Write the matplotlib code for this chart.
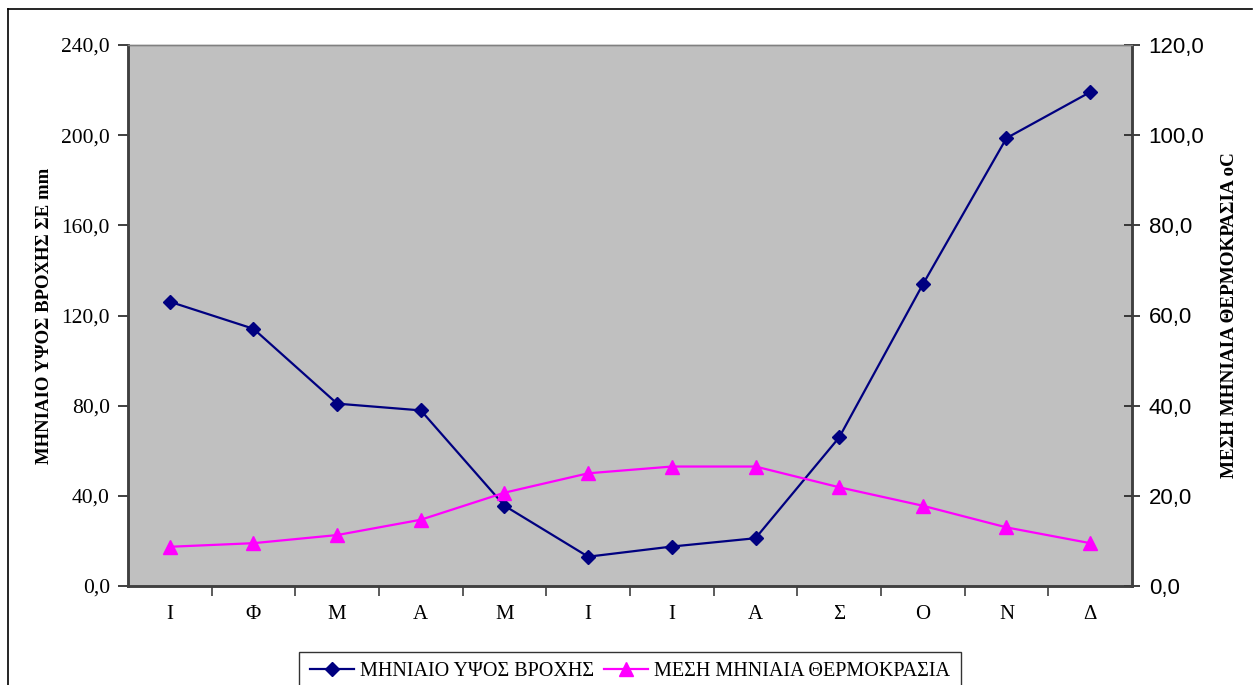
import matplotlib
matplotlib.use('Agg')
import matplotlib.pyplot as plt
from matplotlib.lines import Line2D
from matplotlib.ticker import FuncFormatter, FixedLocator

# Monthly rainfall (mm) and mean monthly temperature (oC)
months = ['Ι', 'Φ', 'Μ', 'Α', 'Μ', 'Ι', 'Ι', 'Α', 'Σ', 'Ο', 'Ν', 'Δ']
rain = [126.1, 114.1, 80.9, 77.9, 35.6, 13.0, 17.5, 21.2, 65.9, 133.8, 198.7, 219.1]
temp = [8.7, 9.5, 11.3, 14.7, 20.7, 25.0, 26.5, 26.5, 21.9, 17.8, 13.0, 9.5]

rain_label = 'ΜΗΝΙΑΙΟ ΥΨΟΣ ΒΡΟΧΗΣ'
temp_label = 'ΜΕΣΗ ΜΗΝΙΑΙΑ ΘΕΡΜΟΚΡΑΣΙΑ'

serif = ['Liberation Serif', 'DejaVu Serif']
sans = ['Liberation Sans', 'DejaVu Sans']


def comma(v, pos):
    return ('%.1f' % v).replace('.', ',')


fig = plt.figure(figsize=(12.57, 6.85), dpi=100)
ax = fig.add_axes([128 / 1257, 99 / 685, 1004 / 1257, 541 / 685])
ax.set_facecolor('#C0C0C0')
ax2 = ax.twinx()

x = list(range(len(months)))
l1, = ax.plot(x, rain, color='#000080', lw=1.6, marker='D', ms=7,
              label=rain_label, zorder=3)
l2, = ax2.plot(x, temp, color='#FF00FF', lw=1.6, marker='^', ms=10,
               label=temp_label, zorder=3)

ax.set_xlim(-0.5, len(months) - 0.5)
ax.set_ylim(0, 240)
ax2.set_ylim(0, 120)
ax.set_yticks([0, 40, 80, 120, 160, 200, 240])
ax2.set_yticks([0, 20, 40, 60, 80, 100, 120])
ax.yaxis.set_major_formatter(FuncFormatter(comma))
ax2.yaxis.set_major_formatter(FuncFormatter(comma))

# category labels centred, tick marks on the boundaries
ax.set_xticks(x)
ax.set_xticklabels(months, fontfamily=serif, fontsize=15)
ax.tick_params(axis='x', which='major', length=0, pad=14)
ax.xaxis.set_minor_locator(FixedLocator([i + 0.5 for i in x[:-1]]))
ax.tick_params(axis='x', which='minor', length=7, width=1.2, color='#404040')

ax.tick_params(axis='y', length=7, width=1.2, color='#202020', pad=6)
for t in ax.get_yticklabels():
    t.set_fontfamily(serif)
    t.set_fontsize(15.5)
ax2.tick_params(axis='y', direction='inout', length=12, width=1.2,
                color='#202020', pad=6)
for t in ax2.get_yticklabels():
    t.set_fontfamily(sans)
    t.set_fontsize(16)

for a in (ax, ax2):
    for side in ('left', 'bottom', 'right'):
        a.spines[side].set_color('#404040')
        a.spines[side].set_linewidth(1.8)
    a.spines['top'].set_color('#808080')
    a.spines['top'].set_linewidth(1.0)

ax.set_ylabel('ΜΗΝΙΑΙΟ ΥΨΟΣ ΒΡΟΧΗΣ ΣΕ mm', fontfamily=serif,
              fontweight='bold', fontsize=13.5, labelpad=6)
ax2.set_ylabel('ΜΕΣΗ ΜΗΝΙΑΙΑ ΘΕΡΜΟΚΡΑΣΙΑ oC', fontfamily=serif,
               fontweight='bold', fontsize=13.8, rotation=90, labelpad=12)

leg = fig.legend([l1, l2], [rain_label, temp_label], ncol=2,
                 loc='upper center', bbox_to_anchor=(630 / 1257, 1 - 652 / 685),
                 prop={'family': serif, 'size': 14.5}, frameon=True,
                 fancybox=False, edgecolor='black', handlelength=2.2,
                 handletextpad=0.3, columnspacing=0.5, borderpad=0.5,
                 borderaxespad=0)
leg.get_frame().set_linewidth(1.0)

# outer chart frame
fig.add_artist(Line2D([8 / 1257, 8 / 1257], [0, 1 - 9 / 685],
                      transform=fig.transFigure, color='black', lw=1.2))
fig.add_artist(Line2D([8 / 1257, 1252 / 1257], [1 - 9 / 685, 1 - 9 / 685],
                      transform=fig.transFigure, color='black', lw=1.2))

fig.savefig('out.png', dpi=100)
